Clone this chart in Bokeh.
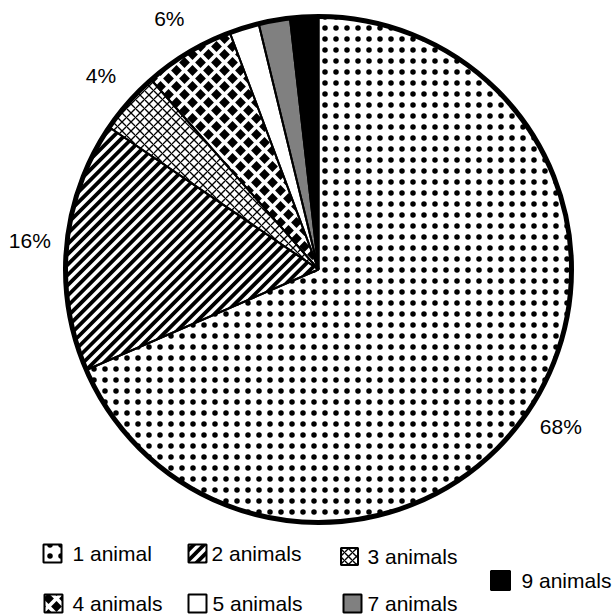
import math
from bokeh.plotting import figure
from bokeh.models import Range1d, ColumnDataSource
from bokeh.core.properties import value
from bokeh.embed import file_html
from bokeh.resources import INLINE

# ---------------- data ----------------
categories = ["1 animal", "2 animals", "3 animals", "4 animals", "5 animals", "7 animals", "9 animals"]
shares = [68.5, 16.0, 4.0, 5.8, 1.9, 2.0, 1.8]
pct_labels = ["68%", "16%", "4%", "6%", "", "", ""]

# ---------------- styles ----------------
fills = ["white", "white", "white", "white", "white", "#808080", "black"]
# built-in hatches (custom ones drawn below as clipped polygons)
hatches = ["dot", "blank", "diagonal_cross", "blank", "blank", "blank", "blank"]
custom = [None, "stripe", None, "diamond", None, None, None]
hatch_scales = [11, 12, 9, 12, 12, 12, 12]
hatch_weights = [2.6, 1, 1.3, 1, 1, 1, 1]
STRIPE_PERIOD, STRIPE_WIDTH = 7.3, 3.8
DIAMOND_PERIOD, DIAMOND_HALF = 16.0, 5.4

W, H = 615, 614
CX, CY = 318, H - 269
R = 253
FONT = value("Liberation Sans")
FS = "21px"

p = figure(width=W, height=H, output_backend="svg", toolbar_location=None,
           x_range=Range1d(0, W), y_range=Range1d(0, H), min_border=0,
           background_fill_color="white", border_fill_color="white")
p.axis.visible = False
p.grid.visible = False
p.outline_line_color = None


def clip(subject, clip_poly):
    """Sutherland-Hodgman: clip polygon by a convex CCW polygon."""
    out = list(subject)
    n = len(clip_poly)
    for i in range(n):
        if not out:
            break
        a, b = clip_poly[i], clip_poly[(i + 1) % n]

        def inside(q):
            return (b[0] - a[0]) * (q[1] - a[1]) - (b[1] - a[1]) * (q[0] - a[0]) >= 0

        def inter(p1, p2):
            x1, y1 = p1; x2, y2 = p2; x3, y3 = a; x4, y4 = b
            den = (x1 - x2) * (y3 - y4) - (y1 - y2) * (x3 - x4)
            t = ((x1 - x3) * (y3 - y4) - (y1 - y3) * (x3 - x4)) / den
            return (x1 + t * (x2 - x1), y1 + t * (y2 - y1))

        inp, out = out, []
        prev = inp[-1]
        for cur in inp:
            if inside(cur):
                if not inside(prev):
                    out.append(inter(prev, cur))
                out.append(cur)
            elif inside(prev):
                out.append(inter(prev, cur))
            prev = cur
    return out


def stripe_polys(region, cx, cy, ext):
    u = (1 / math.sqrt(2), 1 / math.sqrt(2))
    nrm = (1 / math.sqrt(2), -1 / math.sqrt(2))
    res = []
    o = -ext
    while o < ext:
        pts = []
        for oo, tt in ((o, -ext), (o + STRIPE_WIDTH, -ext), (o + STRIPE_WIDTH, ext), (o, ext)):
            pts.append((cx + nrm[0] * oo + u[0] * tt, cy + nrm[1] * oo + u[1] * tt))
        c = clip(pts, region)
        if len(c) >= 3:
            res.append(c)
        o += STRIPE_PERIOD
    return res


def diamond_polys(region):
    xs_ = [q[0] for q in region]; ys_ = [q[1] for q in region]
    s = DIAMOND_PERIOD
    res = []
    j0, j1 = int(min(ys_) // (s / 2)) - 1, int(max(ys_) // (s / 2)) + 2
    for j in range(j0, j1):
        y = j * s / 2
        off = (j % 2) * s / 2
        i0, i1 = int(min(xs_) // s) - 1, int(max(xs_) // s) + 2
        for i in range(i0, i1):
            x = i * s + off
            d = [(x - DIAMOND_HALF, y), (x, y - DIAMOND_HALF), (x + DIAMOND_HALF, y), (x, y + DIAMOND_HALF)]
            c = clip(d, region)
            if len(c) >= 3:
                res.append(c)
    return res


# wedges, clockwise from 12 o'clock
total = sum(shares)
starts, ends, mids = [], [], []
cum = 0.0
for s in shares:
    a0 = math.pi / 2 - 2 * math.pi * (cum + s) / total
    a1 = math.pi / 2 - 2 * math.pi * cum / total
    starts.append(a0)
    ends.append(a1)
    mids.append((a0 + a1) / 2)
    cum += s

src = ColumnDataSource(dict(
    x=[CX] * len(shares), y=[CY] * len(shares),
    start=starts, end=ends, fill=fills, hatch=hatches,
    hscale=hatch_scales, hweight=hatch_weights,
))
p.wedge(x="x", y="y", radius=R, start_angle="start", end_angle="end",
        direction="anticlock", source=src, fill_color="fill",
        hatch_pattern="hatch", hatch_color="black", hatch_scale="hscale",
        hatch_weight="hweight", line_color=None)

# custom textures clipped to their sectors
px, py = [], []
for a0, a1, kind in zip(starts, ends, custom):
    if kind is None:
        continue
    nseg = 80
    region = [(CX, CY)] + [(CX + R * math.cos(a0 + (a1 - a0) * k / nseg),
                            CY + R * math.sin(a0 + (a1 - a0) * k / nseg)) for k in range(nseg + 1)]
    polys = stripe_polys(region, CX, CY, R + 10) if kind == "stripe" else diamond_polys(region)
    for poly in polys:
        px.append([q[0] for q in poly]); py.append([q[1] for q in poly])
p.patches(xs=px, ys=py, fill_color="black", line_color=None)

# slice borders + outer ring
p.wedge(x="x", y="y", radius=R, start_angle="start", end_angle="end",
        direction="anticlock", source=src, fill_color=None, line_color="black", line_width=2)
p.circle(x=[CX], y=[CY], radius=R, fill_color=None, line_color="black", line_width=5)

# percentage labels
LR = 290
lx, ly, lt = [], [], []
for m, t in zip(mids, pct_labels):
    if t:
        lx.append(CX + LR * math.cos(m))
        ly.append(CY + LR * math.sin(m) + 2)
        lt.append(t)
p.text(x=lx, y=ly, text=lt, text_font=FONT, text_font_size=FS,
       text_align="center", text_baseline="middle", text_color="black")

# legend (boxes + labels)
leg_box_x = [52, 197, 349, 53, 197, 352, 500]
leg_box_y = [553, 553, 556, 603, 603, 603, 580]
leg_txt_x = [72, 211, 367, 72, 212, 367, 521]
leg_box_size = [18, 18, 17, 18, 18, 18, 19]
lsrc = ColumnDataSource(dict(
    x=leg_box_x, y=[H - v for v in leg_box_y], s=leg_box_size,
    fill=fills, hatch=hatches,
    hscale=[11, 12, 8, 12, 12, 12, 12], hweight=[2.8, 1, 1.4, 1, 1, 1, 1],
))
p.rect(x="x", y="y", width="s", height="s", source=lsrc, fill_color="fill",
       hatch_pattern="hatch", hatch_color="black", hatch_scale="hscale",
       hatch_weight="hweight", line_color=None)
bx, by = [], []
for bxc, byc, sz, kind in zip(leg_box_x, leg_box_y, leg_box_size, custom):
    if kind is None:
        continue
    yc = H - byc
    h = sz / 2
    region = [(bxc - h, yc - h), (bxc + h, yc - h), (bxc + h, yc + h), (bxc - h, yc + h)]
    polys = stripe_polys(region, bxc, yc, sz) if kind == "stripe" else diamond_polys(region)
    for poly in polys:
        bx.append([q[0] for q in poly]); by.append([q[1] for q in poly])
p.patches(xs=bx, ys=by, fill_color="black", line_color=None)
p.rect(x="x", y="y", width="s", height="s", source=lsrc, fill_color=None,
       line_color="black", line_width=2)
p.text(x=leg_txt_x, y=[H - v for v in leg_box_y], text=categories, text_font=FONT,
       text_font_size=FS, text_align="left", text_baseline="middle", text_color="black")

open("out.html", "w").write(file_html(p, INLINE))
